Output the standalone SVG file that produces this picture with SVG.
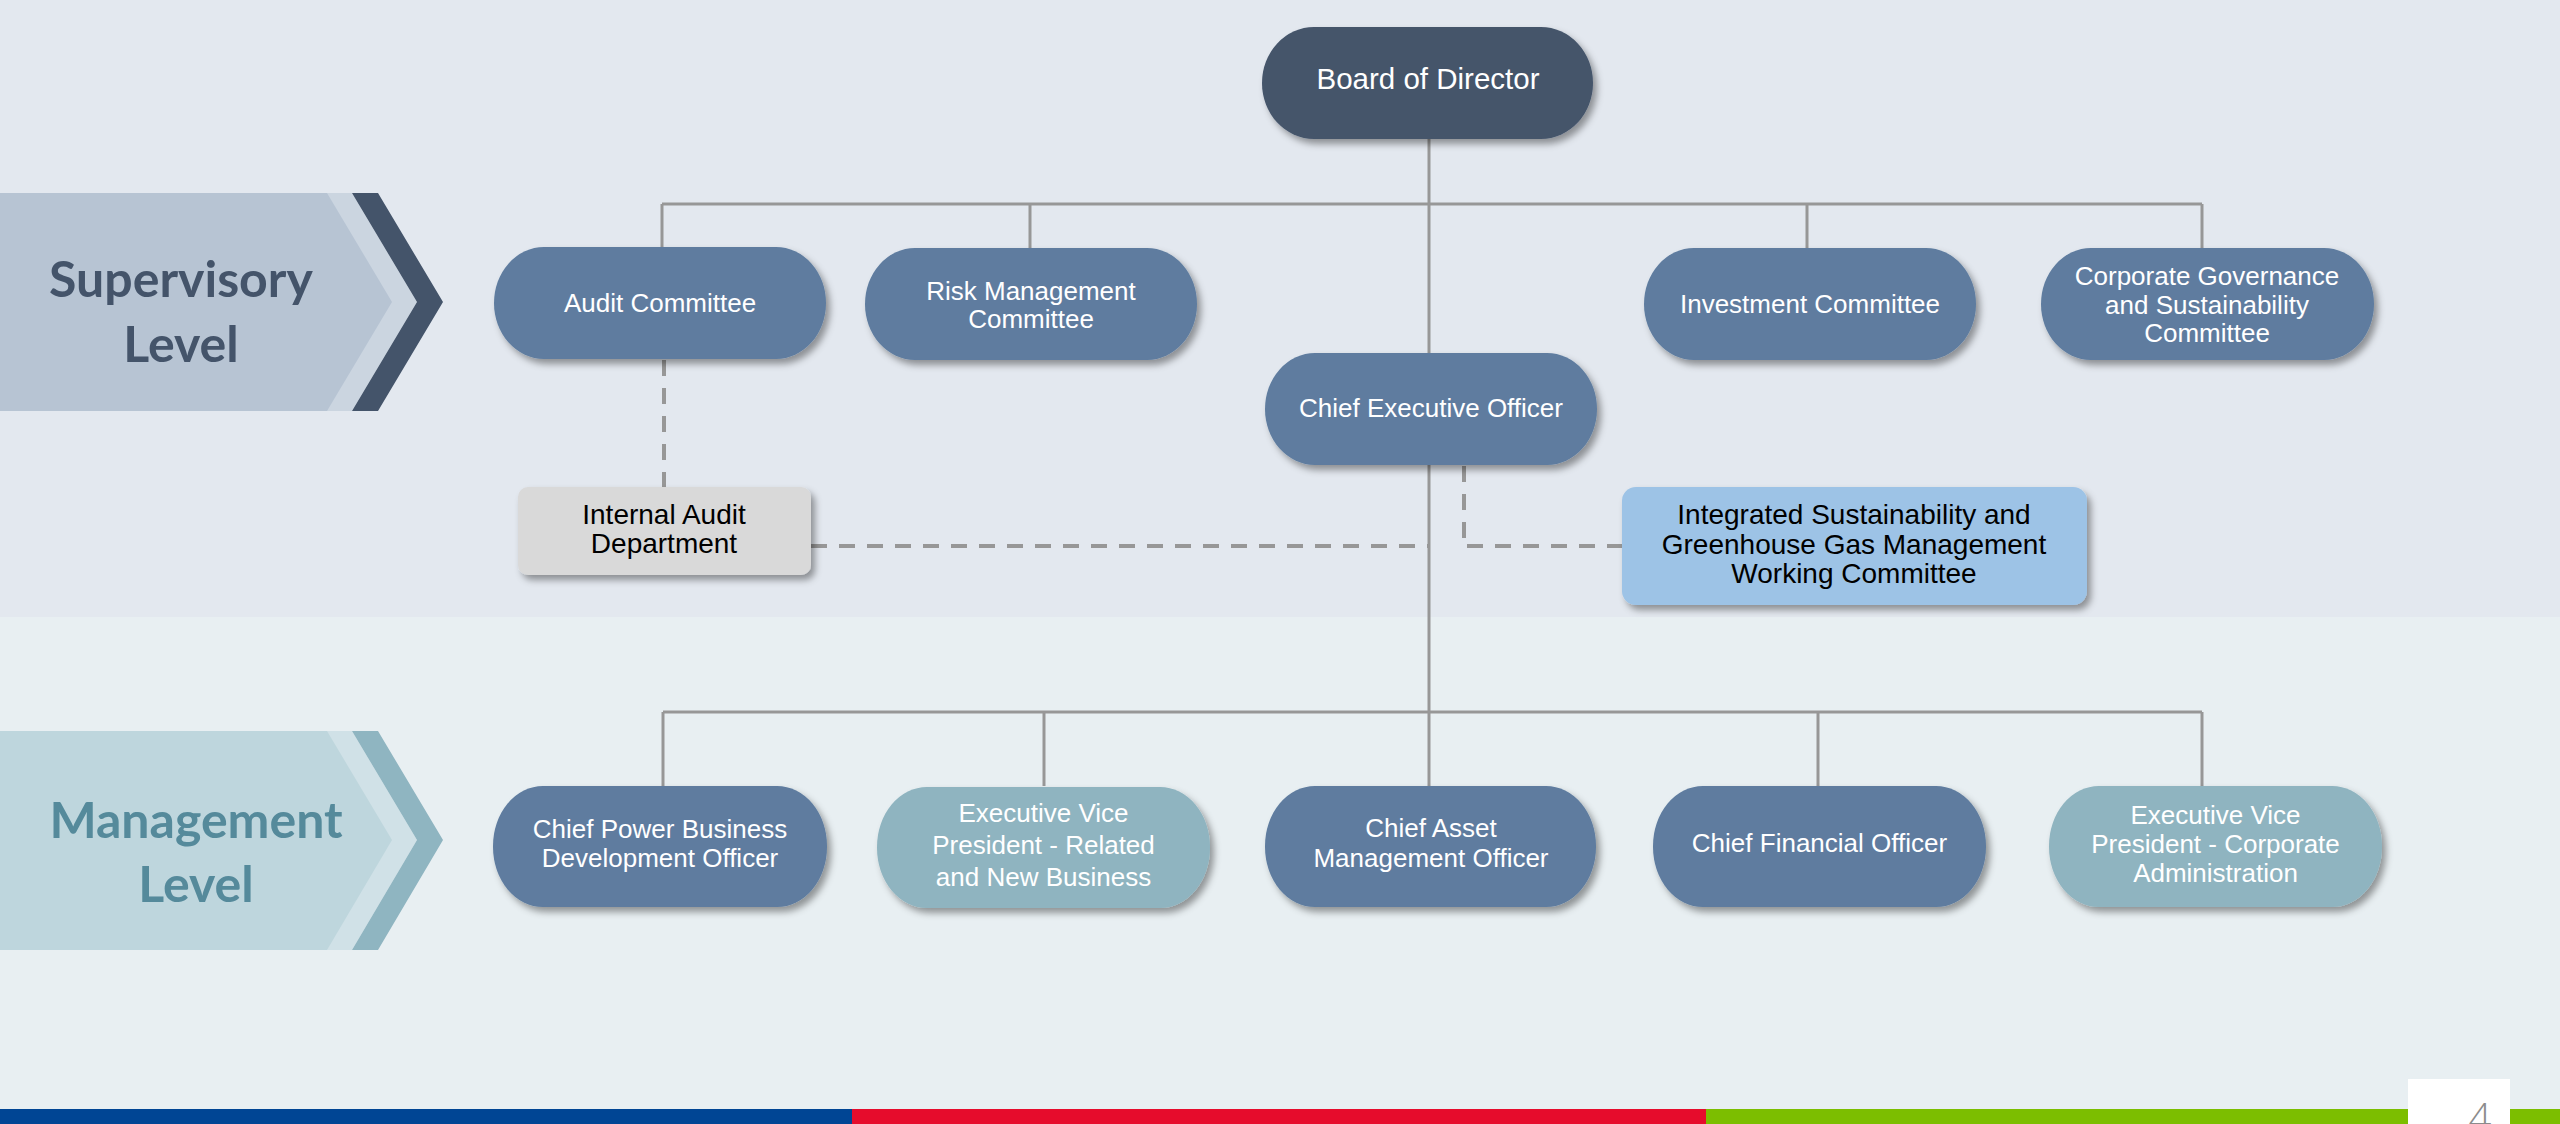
<svg xmlns="http://www.w3.org/2000/svg" width="2560" height="1124" viewBox="0 0 2560 1124">
<defs>
<filter id="sh" x="-10%" y="-20%" width="125%" height="150%">
<feDropShadow dx="4" dy="5" stdDeviation="3.5" flood-color="#000" flood-opacity="0.38"/>
</filter>
<style>
.n{font-family:"Liberation Sans",Arial,sans-serif;font-size:26px;fill:#fff;text-anchor:middle}
.big{font-size:29.5px}
.k{font-family:"Liberation Sans",Arial,sans-serif;font-size:28px;fill:#000;text-anchor:middle}
.blue{fill:#5E7C9F}
.teal{fill:#8FB4C0}
.ln{stroke:#979797;stroke-width:3;fill:none}
.dl{stroke:#979797;stroke-width:4;fill:none;stroke-dasharray:16 12}
.lvl{font-family:Lato,"Open Sans",sans-serif;font-weight:bold;font-size:50px;text-anchor:middle}
</style>
</defs>
<rect x="0" y="0" width="2560" height="617" fill="#E3E8EF"/>
<rect x="0" y="617" width="2560" height="492" fill="#E8EFF2"/>
<rect x="0" y="1109" width="852" height="15" fill="#004594"/>
<rect x="852" y="1109" width="854" height="15" fill="#E60C2C"/>
<rect x="1706" y="1109" width="854" height="15" fill="#7CBE00"/>
<rect x="2408" y="1079" width="102" height="45" fill="#fff"/>
<text x="2480" y="1132" font-family="'Open Sans',sans-serif" font-weight="300" font-size="40" fill="#8C8C8C" text-anchor="middle">4</text>

<g id="level-supervisory">
<polygon points="0,193 352,193 417,302 352,411 0,411" fill="#CBD5E0"/>
<polygon points="0,193 327,193 392,302 327,411 0,411" fill="#B7C4D3"/>
<polygon points="352,193 378,193 443,302 378,411 352,411 417,302" fill="#44546A"/>
<text class="lvl" x="181" y="297" fill="#44546A">Supervisory</text>
<text class="lvl" x="181" y="362" fill="#44546A">Level</text>
</g>
<g id="level-management">
<polygon points="0,731 352,731 417,840 352,950 0,950" fill="#D0E1E7"/>
<polygon points="0,731 327,731 392,840 327,950 0,950" fill="#BED6DD"/>
<polygon points="352,731 378,731 443,840 378,950 352,950 417,840" fill="#8FB5C1"/>
<text class="lvl" x="196" y="838" fill="#558A9B">Management</text>
<text class="lvl" x="196" y="902" fill="#558A9B">Level</text>
</g>

<g id="connectors">
<path class="ln" d="M1429 139 V712"/>
<path class="ln" d="M662 204 H2202"/>
<path class="ln" d="M662 204 V247 M1030 204 V248 M1807 204 V248 M2202 204 V248"/>
<path class="ln" d="M663 712 H2202"/>
<path class="ln" d="M663 712 V786 M1044 712 V786 M1429 712 V786 M1818 712 V786 M2202 712 V786"/>
<path class="dl" d="M664 360 V487"/>
<path class="dl" d="M811 546 H1428"/>
<path class="dl" d="M1464 466 V538"/>
<path class="dl" d="M1467 546 H1622"/>
</g>

<g id="board">
<rect x="1262" y="27" width="331" height="112" rx="52" ry="56" fill="#44546A" filter="url(#sh)"/>
<text class="n big" x="1428" y="89">Board of Director</text>
</g>
<g id="audit-committee">
<rect class="blue" x="494" y="247" width="332" height="112" rx="50" ry="56" filter="url(#sh)"/>
<text class="n" x="660" y="312">Audit Committee</text>
</g>
<g id="risk-committee">
<rect class="blue" x="865" y="248" width="332" height="112" rx="50" ry="56" filter="url(#sh)"/>
<text class="n" x="1031" y="300">Risk Management</text>
<text class="n" x="1031" y="328">Committee</text>
</g>
<g id="investment-committee">
<rect class="blue" x="1644" y="248" width="332" height="112" rx="50" ry="56" filter="url(#sh)"/>
<text class="n" x="1810" y="313">Investment Committee</text>
</g>
<g id="cg-committee">
<rect class="blue" x="2041" y="248" width="333" height="112" rx="50" ry="56" filter="url(#sh)"/>
<text class="n" x="2207" y="285">Corporate Governance</text>
<text class="n" x="2207" y="314">and Sustainability</text>
<text class="n" x="2207" y="342">Committee</text>
</g>
<g id="ceo">
<rect class="blue" x="1265" y="353" width="332" height="112" rx="50" ry="56" filter="url(#sh)"/>
<text class="n" x="1431" y="417">Chief Executive Officer</text>
</g>
<g id="internal-audit">
<rect x="518" y="487" width="293" height="88" rx="10" fill="#D9D9D9" filter="url(#sh)"/>
<text class="k" x="664" y="524">Internal Audit</text>
<text class="k" x="664" y="553">Department</text>
</g>
<g id="isgg">
<rect x="1622" y="487" width="465" height="118" rx="14" fill="#9DC3E6" filter="url(#sh)"/>
<text class="k" x="1854" y="524">Integrated Sustainability and</text>
<text class="k" x="1854" y="553.5">Greenhouse Gas Management</text>
<text class="k" x="1854" y="583">Working Committee</text>
</g>
<g id="cpbdo">
<rect class="blue" x="493" y="786" width="334" height="121" rx="50" ry="60" filter="url(#sh)"/>
<text class="n" x="660" y="838">Chief Power Business</text>
<text class="n" x="660" y="867">Development Officer</text>
</g>
<g id="evp-related">
<rect class="teal" x="877" y="787" width="333" height="121" rx="50" ry="60" filter="url(#sh)"/>
<text class="n" x="1043.5" y="822">Executive Vice</text>
<text class="n" x="1043.5" y="854">President - Related</text>
<text class="n" x="1043.5" y="886">and New Business</text>
</g>
<g id="camo">
<rect class="blue" x="1265" y="786" width="331" height="121" rx="50" ry="60" filter="url(#sh)"/>
<text class="n" x="1431" y="837">Chief Asset</text>
<text class="n" x="1431" y="867">Management Officer</text>
</g>
<g id="cfo">
<rect class="blue" x="1653" y="786" width="333" height="121" rx="50" ry="60" filter="url(#sh)"/>
<text class="n" x="1819.5" y="852">Chief Financial Officer</text>
</g>
<g id="evp-corporate">
<rect class="teal" x="2049" y="786" width="333" height="121" rx="50" ry="60" filter="url(#sh)"/>
<text class="n" x="2215.5" y="824">Executive Vice</text>
<text class="n" x="2215.5" y="853">President - Corporate</text>
<text class="n" x="2215.5" y="882">Administration</text>
</g>
</svg>
